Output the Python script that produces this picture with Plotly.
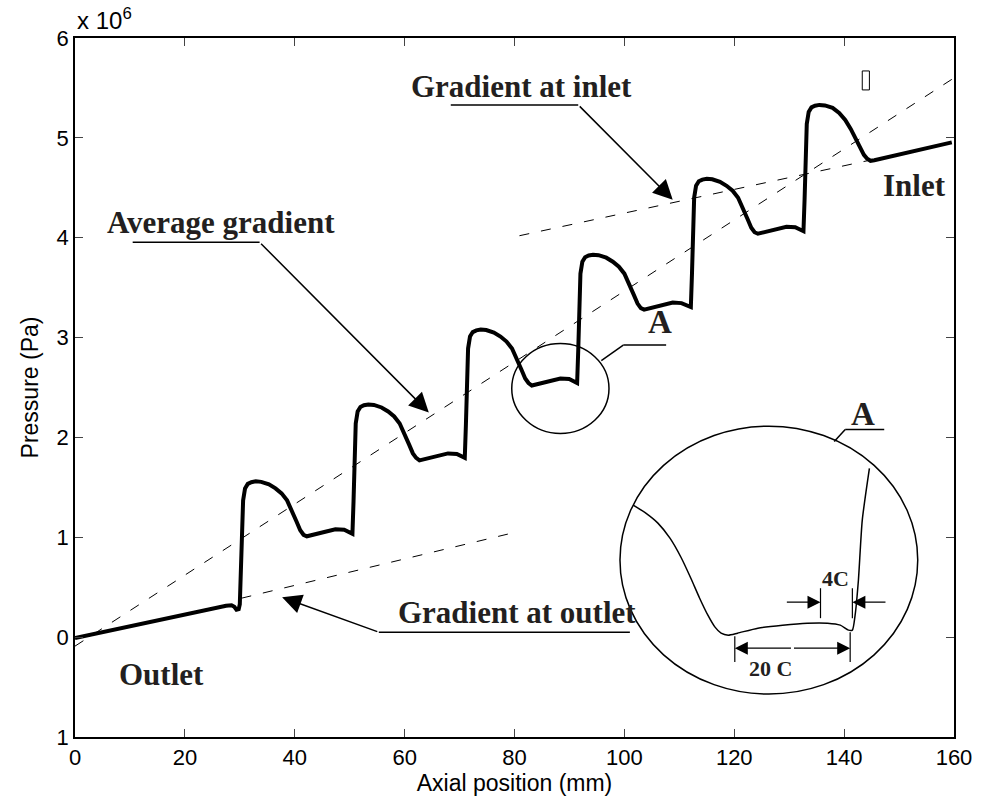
import plotly.graph_objects as go

# ---------------- data (pressure in units of 1e6 Pa) ----------------
axial_mm = [0.0, 5, 10, 15, 20, 25, 27.5, 28.5, 29.0, 29.4, 29.8,
            30.0, 30.2, 30.4, 30.6, 30.95, 31.45, 32.1, 32.9, 33.9, 35.3, 36.5, 37.6, 38.6, 39.5, 40.3, 41.0, 41.6, 42.2, 43.0, 44.8, 47.4, 49.0, 49.7, 50.2,
            50.5, 50.7, 50.9, 51.1, 51.45, 51.95, 52.6, 53.4, 54.4, 55.8, 57.0, 58.1, 59.1, 60.0, 60.8, 61.5, 62.1, 62.7, 63.5, 65.3, 67.9, 69.5, 70.2, 70.7,
            70.95, 71.15, 71.35, 71.55, 71.9, 72.4, 73.05, 73.85, 74.85, 76.25, 77.45, 78.55, 79.55, 80.45, 81.25, 81.95, 82.55, 83.15, 83.95, 85.75, 88.35, 89.95, 90.65, 91.15,
            91.4, 91.6, 91.8, 92.0, 92.35, 92.85, 93.5, 94.3, 95.3, 96.7, 97.9, 99.0, 100.0, 100.9, 101.7, 102.4, 103.0, 103.6, 104.4, 106.2, 108.8, 110.4, 111.3, 111.8,
            112.1, 112.3, 112.5, 112.7, 113.05, 113.55, 114.2, 115.0, 116.0, 117.4, 118.6, 119.7, 120.7, 121.6, 122.4, 123.1, 123.7, 124.3, 125.1, 126.9, 129.5, 131.1, 131.8, 132.3,
            132.6, 132.8, 133.0, 133.2, 133.55, 134.05, 134.7, 135.5, 136.5, 137.9, 139.1, 140.2, 141.2, 142.1, 142.9, 143.6, 144.2, 144.8,
            145.5, 150, 155, 159.6]
pressure_e6 = [-0.01, 0.05, 0.11, 0.17, 0.23, 0.29, 0.315, 0.32, 0.305, 0.275, 0.28,
               0.33, 0.62, 1.04, 1.37, 1.49, 1.535, 1.552, 1.56, 1.555, 1.53, 1.49, 1.44, 1.37, 1.27, 1.16, 1.07, 1.025, 1.01, 1.02, 1.05, 1.08, 1.075, 1.055, 1.04,
               1.035, 1.36, 1.81, 2.14, 2.26, 2.305, 2.322, 2.33, 2.325, 2.30, 2.26, 2.21, 2.14, 2.04, 1.93, 1.84, 1.795, 1.77, 1.78, 1.81, 1.84, 1.835, 1.815, 1.80,
               1.795, 2.12, 2.57, 2.89, 3.01, 3.055, 3.072, 3.08, 3.075, 3.05, 3.01, 2.96, 2.89, 2.79, 2.68, 2.59, 2.545, 2.52, 2.53, 2.56, 2.59, 2.585, 2.565, 2.55,
               2.545, 2.87, 3.32, 3.64, 3.76, 3.805, 3.822, 3.83, 3.825, 3.80, 3.76, 3.71, 3.64, 3.54, 3.43, 3.34, 3.295, 3.28, 3.29, 3.32, 3.35, 3.345, 3.325, 3.31,
               3.305, 3.63, 4.08, 4.40, 4.52, 4.565, 4.582, 4.59, 4.585, 4.56, 4.52, 4.47, 4.40, 4.30, 4.19, 4.10, 4.055, 4.04, 4.05, 4.08, 4.11, 4.105, 4.085, 4.07,
               4.065, 4.38, 4.82, 5.14, 5.26, 5.305, 5.322, 5.33, 5.325, 5.30, 5.25, 5.18, 5.09, 4.99, 4.90, 4.83, 4.79, 4.77,
               4.775, 4.83, 4.89, 4.955]

avg_grad_x = [0, 160]
avg_grad_y = [-0.09, 5.60]
inlet_grad_x = [80.9, 145.0]
inlet_grad_y = [4.02, 4.78]
outlet_grad_x = [30.3, 80.9]
outlet_grad_y = [0.39, 1.06]

# detail inset (zoom of region A), drawn in axis units
inset_x = [101.6, 103.9, 106.1, 108.3, 110.3, 112.1, 113.7, 115.2, 116.5, 117.6, 118.9, 120.6, 124.3, 128.8, 133.3, 137.0, 139.3, 140.8, 141.5, 142.0, 142.6, 143.3, 144.6]
inset_y = [1.322, 1.242, 1.142, 0.991, 0.80, 0.59, 0.39, 0.22, 0.10, 0.04, 0.02, 0.04, 0.09, 0.12, 0.14, 0.14, 0.12, 0.07, 0.07, 0.22, 0.57, 1.17, 1.69]

x_ticks = [0, 20, 40, 60, 80, 100, 120, 140, 160]
y_ticks = [-1, 0, 1, 2, 3, 4, 5, 6]
y_tick_text = ["1", "0", "1", "2", "3", "4", "5", "6"]

SERIF = "Liberation Serif"
SANS = "Liberation Sans"
TXT = "#231f20"
DASH = "10px,12px"

fig = go.Figure()
fig.add_trace(go.Scatter(x=avg_grad_x, y=avg_grad_y, mode="lines",
                         line=dict(color="black", width=1, dash=DASH), hoverinfo="skip"))
fig.add_trace(go.Scatter(x=inlet_grad_x, y=inlet_grad_y, mode="lines",
                         line=dict(color="black", width=1, dash=DASH), hoverinfo="skip"))
fig.add_trace(go.Scatter(x=outlet_grad_x, y=outlet_grad_y, mode="lines",
                         line=dict(color="black", width=1, dash=DASH), hoverinfo="skip"))
fig.add_trace(go.Scatter(x=axial_mm, y=pressure_e6, mode="lines",
                         line=dict(color="black", width=4)))
fig.add_trace(go.Scatter(x=inset_x, y=inset_y, mode="lines", line_shape="spline",
                         line=dict(color="black", width=1.5, smoothing=0.6), hoverinfo="skip"))

shapes = []
def seg(x0, y0, x1, y1, w=1.5):
    shapes.append(dict(type="line", xref="x", yref="y", x0=x0, y0=y0, x1=x1, y1=y1,
                       line=dict(color="black", width=w)))

# leader underlines
seg(68.4, 5.33, 91.6, 5.33)      # gradient at inlet
seg(10.5, 3.955, 33.6, 3.955)    # average gradient
seg(55.3, 0.05, 101.0, 0.05)     # gradient at outlet
# small circle A
shapes.append(dict(type="circle", xref="x", yref="y", x0=79.5, x1=97.2, y0=2.04, y1=2.94,
                   line=dict(color="black", width=1.5)))
seg(99.8, 2.925, 107.6, 2.925)
seg(99.8, 2.925, 95.8, 2.77)
# big circle A
shapes.append(dict(type="circle", xref="x", yref="y", x0=99.2, x1=153.4, y0=-0.57, y1=2.113,
                   line=dict(color="black", width=1.5)))
seg(140.2, 2.08, 147.3, 2.08)
seg(140.2, 2.08, 138.2, 1.96)
# 4C ticks
seg(135.7, 0.49, 135.7, 0.19, 1.2)
seg(141.5, 0.49, 141.5, 0.19, 1.2)
# 20C ticks
seg(120.1, 0.01, 120.1, -0.25, 1.2)
seg(141.1, 0.05, 141.1, -0.25, 1.2)
# missing-glyph box
shapes.append(dict(type="rect", xref="x", yref="y", x0=143.3, x1=144.6, y0=5.48, y1=5.67,
                   line=dict(color="black", width=1)))

ann = []
def label(x, y, t, size=31):
    ann.append(dict(x=x, y=y, xref="x", yref="y", text="<b>%s</b>" % t, showarrow=False,
                    font=dict(family=SERIF, size=size, color=TXT), xanchor="center", yanchor="middle"))

def arrow(xt, yt, xa, ya, size=2.6, width=1.5):
    ann.append(dict(x=xt, y=yt, ax=xa, ay=ya, xref="x", yref="y", axref="x", ayref="y",
                    text="", showarrow=True, arrowhead=2, arrowsize=size, arrowwidth=width,
                    arrowcolor="black"))

label(81.3, 5.51, "Gradient at inlet")
label(26.5, 4.155, "Average gradient")
label(80.4, 0.25, "Gradient at outlet")
label(15.8, -0.37, "Outlet")
label(152.9, 4.52, "Inlet")
label(106.5, 3.155, "A", 33)
label(143.5, 2.235, "A", 33)
label(138.4, 0.59, "4C", 22)
label(126.6, -0.31, "20 C", 22)

arrow(108.8, 4.38, 91.6, 5.33)
arrow(64.4, 2.25, 33.6, 3.955)
arrow(37.7, 0.40, 55.3, 0.05)
arrow(135.7, 0.35, 129.3, 0.35, 2.0, 1.3)
arrow(141.5, 0.35, 147.8, 0.35, 2.0, 1.3)
arrow(120.1, -0.11, 130.6, -0.11, 2.0, 1.3)
arrow(141.1, -0.11, 130.6, -0.11, 2.0, 1.3)

ann.append(dict(x=0, y=1, xref="paper", yref="paper", xanchor="left", yanchor="bottom",
                yshift=2, text="x 10<sup>6</sup>", showarrow=False,
                font=dict(family=SANS, size=24, color="black")))

fig.update_layout(
    width=984, height=806, margin=dict(l=75, r=27, t=38, b=69),
    paper_bgcolor="white", plot_bgcolor="white", showlegend=False,
    shapes=shapes, annotations=ann,
    font=dict(family=SANS, size=22, color="black"),
)
fig.update_xaxes(range=[0, 160], tickvals=x_ticks, ticks="inside", ticklen=8, tickwidth=1.2,
                 showline=True, linecolor="black", linewidth=1.5, mirror="ticks",
                 showgrid=False, zeroline=False,
                 title=dict(text="Axial position (mm)", font=dict(family=SANS, size=23), standoff=6),
                 tickfont=dict(family=SANS, size=22))
fig.update_yaxes(range=[-1, 6], tickvals=y_ticks, ticktext=y_tick_text, ticks="inside", ticklen=8,
                 tickwidth=1.2, showline=True, linecolor="black", linewidth=1.5, mirror="ticks",
                 showgrid=False, zeroline=False,
                 title=dict(text="Pressure (Pa)", font=dict(family=SANS, size=23), standoff=12),
                 tickfont=dict(family=SANS, size=22))

fig.write_html("out.html")
